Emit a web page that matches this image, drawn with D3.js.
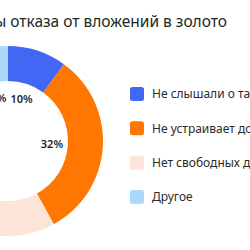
<!DOCTYPE html>
<html>
<head>
<meta charset="utf-8">
<script src="https://cdn.jsdelivr.net/npm/d3@7"></script>
<style>
  html, body { margin: 0; padding: 0; background: #fff; overflow: hidden; }
  svg { display: block; font-family: "Noto Sans", "Open Sans", sans-serif; }
</style>
</head>
<body>
<svg id="chart" width="250" height="250"></svg>
<script>
  // Reasons for not investing in gold, share of answers (%)
  const categories = [
    "Не слышали о таком способе",
    "Не устраивает доходность",
    "Нет свободных денег",
    "Другое"
  ];
  const values = [10, 32, 51, 7];
  const colors = ["#4267f4", "#ff7700", "#fde4d9", "#abd8fb"];
  const title = "Причины отказа от вложений в золото";

  const svg = d3.select("#chart");
  const cx = 8, cy = 141, rOuter = 95, rInner = 60, rLabel = 44;

  svg.append("text")
    .attr("x", 227)
    .attr("y", 27)
    .attr("text-anchor", "end")
    .attr("font-size", 15.5)
    .attr("fill", "#1c2a1f")
    .text(title);

  const data = categories.map((c, i) => ({ name: c, value: values[i], color: colors[i] }));
  const pie = d3.pie().sort(null).value((d) => d.value);
  const arcs = pie(data);
  const arc = d3.arc().innerRadius(rInner).outerRadius(rOuter);
  const labelArc = d3.arc().innerRadius(rLabel).outerRadius(rLabel);

  const g = svg.append("g").attr("transform", `translate(${cx},${cy})`);
  g.selectAll("path")
    .data(arcs)
    .join("path")
    .attr("d", arc)
    .attr("fill", (d) => d.data.color);

  g.selectAll("text")
    .data(arcs)
    .join("text")
    .attr("transform", (d) => `translate(${labelArc.centroid(d)})`)
    .attr("text-anchor", "middle")
    .attr("dy", "0.35em")
    .attr("font-size", 11)
    .attr("font-weight", 600)
    .attr("fill", "#1e1e1e")
    .text((d) => d.data.value + "%");

  const y = d3.scalePoint().domain(categories).range([94, 197]);
  const legend = svg.append("g")
    .selectAll("g")
    .data(data)
    .join("g")
    .attr("transform", (d) => `translate(130,${y(d.name)})`);
  legend.append("rect")
    .attr("x", 0)
    .attr("y", -7)
    .attr("width", 14)
    .attr("height", 14)
    .attr("rx", 2.5)
    .attr("fill", (d) => d.color);
  legend.append("text")
    .attr("x", 22)
    .attr("dy", "0.35em")
    .attr("font-size", 12)
    .attr("fill", "#2b2b2b")
    .text((d) => d.name);
</script>
</body>
</html>
